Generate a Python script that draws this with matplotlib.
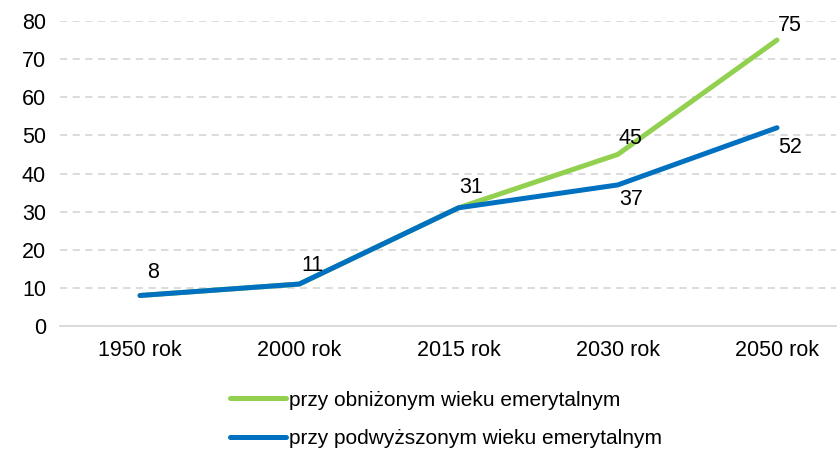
import matplotlib
matplotlib.use("Agg")
import matplotlib.pyplot as plt

categories = ["1950 rok", "2000 rok", "2015 rok", "2030 rok", "2050 rok"]
lowered = [8, 11, 31, 45, 75]
raised = [8, 11, 31, 37, 52]
series_names = ["przy obniżonym wieku emerytalnym", "przy podwyższonym wieku emerytalnym"]
yticks = [0, 10, 20, 30, 40, 50, 60, 70, 80]

plt.rcParams['font.family'] = ['Liberation Sans', 'DejaVu Sans']

W, H = 838, 450
fig = plt.figure(figsize=(W/100, H/100), dpi=100)
left, right, top, bottom = 60, 836, 21, 326
ax = fig.add_axes([left/W, 1-bottom/H, (right-left)/W, (bottom-top)/H])

green = "#92D050"
blue = "#0070C0"
x = list(range(len(categories)))
ax.plot(x, lowered, color=green, lw=3.6, solid_capstyle='round', label=series_names[0], zorder=3)
ax.plot(x, raised, color=blue, lw=3.6, solid_capstyle='round', label=series_names[1], zorder=4)

# x scale: x=0 at 140px, x=4 at 777px
ppu = (777-140)/4
ax.set_xlim(-(140-left)/ppu, 4 + (right-777)/ppu)
ax.set_ylim(0, 80)
ax.set_yticks(yticks)
ax.set_xticks(x)
ax.set_xticklabels(categories)
ax.tick_params(axis='both', length=0, labelsize=15.5, colors='#000000')
ax.tick_params(axis='y', pad=10)
ax.tick_params(axis='x', pad=10)
for s in ['top', 'right', 'left']:
    ax.spines[s].set_visible(False)
ax.spines['bottom'].set_color('#d9d9d9')
ax.spines['bottom'].set_linewidth(1.3)
ax.yaxis.grid(True, color='#d9d9d9', linestyle=(0, (4, 3)), linewidth=1.3)
ax.set_axisbelow(True)

PX = 0.72  # points per pixel at dpi 100

def lab(xi, val, dy_px):
    ax.annotate(str(val), (xi, val), xytext=(13*PX, dy_px*PX), textcoords='offset points',
                ha='center', va='center', fontsize=15.5, zorder=5)

lab(0, raised[0], 23)
lab(1, raised[1], 19)
lab(2, raised[2], 20)
lab(3, lowered[3], 16)
lab(4, lowered[4], 15)
lab(3, raised[3], -15)
lab(4, raised[4], -20)

leg = fig.legend(loc='center', bbox_to_anchor=(446/W, 1-419.5/H), ncol=1, frameon=False,
                 fontsize=15, handlelength=2.65, handletextpad=0.15, labelspacing=0.95)

fig.savefig("out.png", dpi=100)
